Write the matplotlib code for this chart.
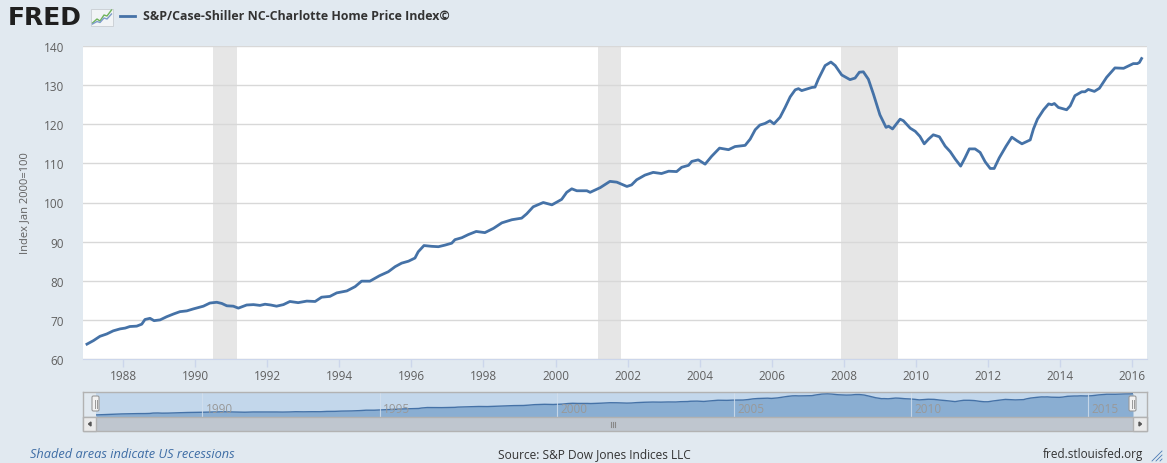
import matplotlib.pyplot as plt
from matplotlib.patches import Rectangle, FancyBboxPatch
from matplotlib.lines import Line2D

# S&P/Case-Shiller NC-Charlotte Home Price Index
years = [1987.00, 1987.18, 1987.36, 1987.55, 1987.73, 1987.92, 1988.06, 1988.19, 1988.38, 1988.52,
         1988.61, 1988.75, 1988.86, 1989.03, 1989.21, 1989.40, 1989.58, 1989.77, 1989.95, 1990.23,
         1990.41, 1990.60, 1990.74, 1990.88, 1991.06, 1991.20, 1991.43, 1991.62, 1991.80, 1991.94,
         1992.10, 1992.26, 1992.45, 1992.63, 1992.86, 1993.10, 1993.33, 1993.51, 1993.74, 1993.93,
         1994.21, 1994.44, 1994.62, 1994.85, 1995.12, 1995.36, 1995.55, 1995.73, 1995.92, 1996.10,
         1996.19, 1996.35, 1996.56, 1996.75, 1996.93, 1997.12, 1997.21, 1997.40, 1997.58, 1997.80,
         1998.04, 1998.28, 1998.51, 1998.79, 1999.06, 1999.20, 1999.38, 1999.66, 1999.90, 2000.17,
         2000.31, 2000.45, 2000.59, 2000.87, 2000.96, 2001.24, 2001.51, 2001.70, 2001.98, 2002.11,
         2002.25, 2002.48, 2002.71, 2002.94, 2003.14, 2003.36, 2003.50, 2003.69, 2003.78, 2003.96,
         2004.15, 2004.33, 2004.55, 2004.80, 2004.98, 2005.26, 2005.40, 2005.54, 2005.67, 2005.81,
         2005.95, 2006.06, 2006.23, 2006.37, 2006.51, 2006.65, 2006.74, 2006.83, 2006.97, 2007.11,
         2007.20, 2007.29, 2007.48, 2007.64, 2007.76, 2007.94, 2008.17, 2008.31, 2008.43, 2008.54,
         2008.68, 2008.82, 2009.00, 2009.17, 2009.24, 2009.35, 2009.56, 2009.65, 2009.84, 2009.98,
         2010.11, 2010.23, 2010.35, 2010.48, 2010.65, 2010.81, 2010.95, 2011.09, 2011.24, 2011.36,
         2011.48, 2011.64, 2011.78, 2011.92, 2012.06, 2012.17, 2012.31, 2012.50, 2012.66, 2012.80,
         2012.94, 2013.17, 2013.26, 2013.37, 2013.54, 2013.68, 2013.77, 2013.84, 2013.95, 2014.18,
         2014.28, 2014.41, 2014.60, 2014.69, 2014.78, 2014.95, 2015.09, 2015.29, 2015.52, 2015.76,
         2016.03, 2016.14, 2016.20, 2016.26]
index = [63.8, 64.7, 65.8, 66.4, 67.2, 67.7, 67.9, 68.3, 68.4, 68.9,
         70.1, 70.4, 69.8, 70.0, 70.8, 71.5, 72.1, 72.3, 72.8, 73.5,
         74.3, 74.5, 74.2, 73.6, 73.5, 73.0, 73.8, 73.9, 73.7, 74.0,
         73.8, 73.5, 73.9, 74.7, 74.4, 74.8, 74.7, 75.8, 76.0, 76.9,
         77.4, 78.5, 79.9, 79.9, 81.3, 82.3, 83.6, 84.5, 85.0, 85.8,
         87.4, 89.0, 88.8, 88.7, 89.1, 89.6, 90.5, 91.0, 91.8, 92.6,
         92.3, 93.4, 94.8, 95.6, 96.0, 97.1, 98.9, 100.0, 99.4, 100.8,
         102.6, 103.5, 103.0, 103.0, 102.6, 103.8, 105.4, 105.2, 104.1, 104.5,
         105.8, 107.0, 107.7, 107.4, 108.0, 107.9, 109.0, 109.5, 110.5, 110.9,
         109.8, 111.8, 113.9, 113.5, 114.3, 114.6, 116.2, 118.6, 119.8, 120.2,
         120.9, 120.1, 121.8, 124.3, 127.0, 128.8, 129.1, 128.6, 129.0, 129.4,
         129.5, 131.5, 135.0, 135.9, 135.0, 132.6, 131.4, 131.8, 133.3, 133.4,
         131.5, 127.7, 122.4, 119.2, 119.5, 118.8, 121.3, 120.9, 119.0, 118.2,
         116.9, 115.0, 116.2, 117.3, 116.8, 114.4, 113.0, 111.1, 109.3, 111.4,
         113.7, 113.7, 112.8, 110.4, 108.7, 108.7, 111.4, 114.4, 116.7, 115.8,
         115.0, 116.0, 118.8, 121.3, 123.7, 125.2, 125.0, 125.3, 124.3, 123.7,
         124.7, 127.3, 128.3, 128.3, 128.9, 128.4, 129.2, 132.0, 134.4, 134.3,
         135.5, 135.5, 135.8, 136.8]

recessions = [(1990.50, 1991.17), (2001.17, 2001.83), (2007.92, 2009.50)]
xticks = list(range(1988, 2017, 2))
yticks = [60, 70, 80, 90, 100, 110, 120, 130, 140]
nav_ticks = [1990, 1995, 2000, 2005, 2010, 2015]

BG = '#e1e9f0'
LINE = '#4572a7'
W, H = 1167, 464

plt.rcParams['font.family'] = ['Open Sans', 'DejaVu Sans']

fig = plt.figure(figsize=(W / 100, H / 100), dpi=100, facecolor=BG)


def box(x0, y0, x1, y1):
    # pixel box (top-left origin) -> figure fraction rect
    return [x0 / W, 1 - y1 / H, (x1 - x0) / W, (y1 - y0) / H]


# main chart
ax = fig.add_axes(box(83, 47, 1147, 360))
ax.set_facecolor('white')
for a, b in recessions:
    ax.axvspan(a, b, color='#e6e6e6', lw=0, zorder=0)
ax.plot(years, index, color=LINE, lw=2, zorder=3, solid_joinstyle='round')
ax.set_xlim(1986.89, 2016.41)
ax.set_ylim(60, 140)
ax.set_yticks(yticks)
ax.set_xticks(xticks)
ax.grid(axis='y', color='#d8d8d8', lw=1, zorder=1)
for s in ax.spines.values():
    s.set_visible(False)
ax.spines['bottom'].set_visible(True)
ax.spines['bottom'].set_color('#ccd6eb')
ax.tick_params(axis='y', length=0, pad=13.5, labelsize=8.5, labelcolor='#606060')
ax.tick_params(axis='x', length=6, width=1, color='#ccd6eb', pad=1.5,
               labelsize=8.5, labelcolor='#606060')
ax.set_ylabel('Index Jan 2000=100', fontsize=8, color='#606060', labelpad=10)

# navigator
nav = fig.add_axes(box(96, 393, 1133, 418))
nav.set_facecolor('#c3d7eb')
nav.fill_between(years, 50, index, color='#8aaed2', lw=0)
nav.plot(years, index, color=LINE, lw=1)
nav.set_xlim(years[0], years[-1])
nav.set_ylim(56.7, 142)
nav.set_xticks([])
nav.set_yticks([])
for s in nav.spines.values():
    s.set_visible(False)
for t in nav_ticks:
    nav.axvline(t, color='#d4e1ee', lw=0.8, alpha=0.8)
    nav.text(t + 0.1, 0.06, str(t), transform=nav.get_xaxis_transform(),
             fontsize=8.5, color='#999999', va='bottom', ha='left')

# overlay in pixel coordinates for borders, handles, scrollbar
ov = fig.add_axes([0, 0, 1, 1], facecolor='none')
ov.set_xlim(0, W)
ov.set_ylim(H, 0)
ov.axis('off')
ov.add_patch(Rectangle((83, 418), 1064, 14, fc='#bfc6cf', ec='#b2b2b2', lw=1))
ov.add_patch(Rectangle((83, 418), 13, 14, fc='#ebebeb', ec='#b2b2b2', lw=1))
ov.add_patch(Rectangle((1133, 418), 14, 14, fc='#ebebeb', ec='#b2b2b2', lw=1))
ov.fill([88.5, 91, 91], [425, 423, 427], color='#555555')
ov.fill([1141.5, 1139, 1139], [425, 423, 427], color='#555555')
for gx in (611, 613, 615):
    ov.plot([gx, gx], [422.5, 427.5], color='#888888', lw=0.8)
ov.add_line(Line2D([83, 1147], [393, 393], color='#b2b2b2', lw=1))
ov.add_line(Line2D([83, 83], [393, 418], color='#b2b2b2', lw=1))
ov.add_line(Line2D([1147, 1147], [393, 418], color='#b2b2b2', lw=1))
for hx in (92, 1129):
    ov.add_patch(FancyBboxPatch((hx, 397), 7, 15, boxstyle='round,pad=0,rounding_size=1.5',
                                fc='#f2f2f2', ec='#999999', lw=0.8))
    ov.plot([hx + 2.5, hx + 2.5], [400.5, 408.5], color='#999999', lw=0.7)
    ov.plot([hx + 4.5, hx + 4.5], [400.5, 408.5], color='#999999', lw=0.7)

# header: FRED logo, small icon, legend
ov.text(8, 18, 'FRED', fontsize=18, fontweight='bold', color='#1f1f1f',
        family=['DejaVu Sans'], va='center', ha='left')
ov.add_patch(Rectangle((91, 10), 22, 16.5, fc='#f1f4f6', ec='#c8cdd2', lw=0.6))
ov.plot([92.5, 97, 100, 104, 107, 111.5], [24, 20, 22, 16, 17, 11], color='#6fb35a', lw=1)
ov.plot([92.5, 97, 100, 104, 107, 111.5], [25, 22.5, 23.5, 19, 20, 15], color='#7d9cc9', lw=1)
ov.plot([120, 135], [17, 17], color=LINE, lw=2)
ov.text(143, 17, 'S&P/Case-Shiller NC-Charlotte Home Price Index©', fontsize=8.9,
        fontweight='bold', color='#333333', va='center', ha='left')

# footer
ov.text(30, 455, 'Shaded areas indicate US recessions', fontsize=9.2, style='italic',
        color='#3e6da5', va='center', ha='left')
ov.text(594, 455, 'Source: S&P Dow Jones Indices LLC', fontsize=8.6, color='#333333',
        va='center', ha='center')
ov.text(1143, 455, 'fred.stlouisfed.org', fontsize=8.5, color='#333333',
        va='center', ha='right')
for i in range(3):
    ov.plot([1152 + 4 * i, 1162], [462, 452 + 4 * i], color='#4a7ab5', lw=0.6)

fig.savefig('out.png', dpi=100, facecolor=BG)
